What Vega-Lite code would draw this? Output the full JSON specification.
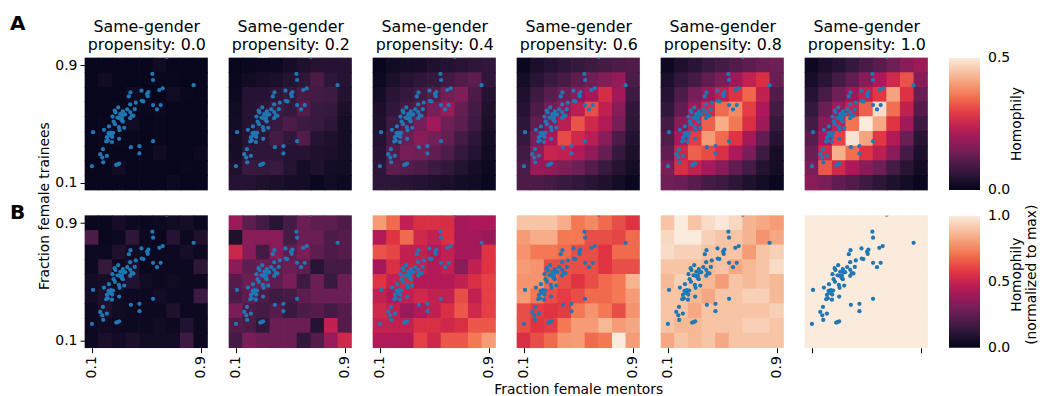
{
"$schema": "https://vega.github.io/schema/vega-lite/v6.json",
"padding": {"left": 10, "top": 13, "right": 0, "bottom": 0},
"config": {
 "font": "DejaVu Sans",
 "view": {"stroke": null},
 "axis": {"labelFontSize": 14, "titleFontSize": 13.8, "labelColor": "black", "titleColor": "black", "tickColor": "black", "domain": false, "grid": false, "tickSize": 5, "labelPadding": 3, "titleFontWeight": "normal", "labelFont": "DejaVu Sans", "titleFont": "DejaVu Sans"},
 "legend": {"labelFontSize": 14, "titleFontSize": 13.8, "labelColor": "black", "titleColor": "black", "titleFontWeight": "normal", "labelFont": "DejaVu Sans", "titleFont": "DejaVu Sans"}
},
"datasets": {
"pts": [
{"x":0.650,"y":0.957},{"x":0.545,"y":0.841},{"x":0.550,"y":0.800},{"x":0.848,"y":0.765},{"x":0.596,"y":0.731},{"x":0.621,"y":0.743},{"x":0.465,"y":0.727},{"x":0.516,"y":0.718},{"x":0.506,"y":0.705},{"x":0.511,"y":0.690},{"x":0.384,"y":0.715},{"x":0.372,"y":0.688},{"x":0.467,"y":0.658},{"x":0.479,"y":0.654},{"x":0.423,"y":0.645},{"x":0.382,"y":0.633},{"x":0.550,"y":0.629},{"x":0.606,"y":0.629},{"x":0.579,"y":0.599},{"x":0.294,"y":0.613},{"x":0.416,"y":0.601},{"x":0.274,"y":0.579},{"x":0.328,"y":0.586},{"x":0.309,"y":0.567},{"x":0.333,"y":0.563},{"x":0.382,"y":0.581},{"x":0.394,"y":0.558},{"x":0.406,"y":0.556},{"x":0.382,"y":0.540},{"x":0.252,"y":0.551},{"x":0.289,"y":0.544},{"x":0.304,"y":0.540},{"x":0.321,"y":0.540},{"x":0.328,"y":0.517},{"x":0.260,"y":0.517},{"x":0.270,"y":0.499},{"x":0.226,"y":0.483},{"x":0.299,"y":0.478},{"x":0.338,"y":0.474},{"x":0.304,"y":0.458},{"x":0.189,"y":0.460},{"x":0.109,"y":0.444},{"x":0.223,"y":0.437},{"x":0.240,"y":0.442},{"x":0.257,"y":0.440},{"x":0.231,"y":0.424},{"x":0.250,"y":0.412},{"x":0.211,"y":0.410},{"x":0.218,"y":0.387},{"x":0.206,"y":0.381},{"x":0.248,"y":0.377},{"x":0.301,"y":0.399},{"x":0.550,"y":0.383},{"x":0.387,"y":0.342},{"x":0.450,"y":0.349},{"x":0.450,"y":0.299},{"x":0.182,"y":0.328},{"x":0.162,"y":0.294},{"x":0.177,"y":0.271},{"x":0.211,"y":0.283},{"x":0.184,"y":0.239},{"x":0.101,"y":0.212},{"x":0.279,"y":0.221},{"x":0.301,"y":0.230},{"x":0.290,"y":0.225},{"x":0.320,"y":0.525},{"x":0.345,"y":0.565},{"x":0.268,"y":0.592},{"x":0.240,"y":0.430},{"x":0.360,"y":0.600}
],
"A00": [
{"x":0.1,"y":0.9,"v":0.005},{"x":0.2,"y":0.9,"v":0.005},{"x":0.3,"y":0.9,"v":0.005},{"x":0.4,"y":0.9,"v":0.005},{"x":0.5,"y":0.9,"v":0.005},{"x":0.6,"y":0.9,"v":0.02},{"x":0.7,"y":0.9,"v":0.005},{"x":0.8,"y":0.9,"v":0.005},{"x":0.9,"y":0.9,"v":0.005},
{"x":0.1,"y":0.8,"v":0.005},{"x":0.2,"y":0.8,"v":0.02},{"x":0.3,"y":0.8,"v":0.005},{"x":0.4,"y":0.8,"v":0.005},{"x":0.5,"y":0.8,"v":0.005},{"x":0.6,"y":0.8,"v":0.01},{"x":0.7,"y":0.8,"v":0.01},{"x":0.8,"y":0.8,"v":0.005},{"x":0.9,"y":0.8,"v":0.005},
{"x":0.1,"y":0.7,"v":0.005},{"x":0.2,"y":0.7,"v":0.005},{"x":0.3,"y":0.7,"v":0.005},{"x":0.4,"y":0.7,"v":0.02},{"x":0.5,"y":0.7,"v":0.01},{"x":0.6,"y":0.7,"v":0.005},{"x":0.7,"y":0.7,"v":0.02},{"x":0.8,"y":0.7,"v":0.01},{"x":0.9,"y":0.7,"v":0.005},
{"x":0.1,"y":0.6,"v":0.005},{"x":0.2,"y":0.6,"v":0.005},{"x":0.3,"y":0.6,"v":0.01},{"x":0.4,"y":0.6,"v":0.005},{"x":0.5,"y":0.6,"v":0.01},{"x":0.6,"y":0.6,"v":0.015},{"x":0.7,"y":0.6,"v":0.005},{"x":0.8,"y":0.6,"v":0.005},{"x":0.9,"y":0.6,"v":0.005},
{"x":0.1,"y":0.5,"v":0.005},{"x":0.2,"y":0.5,"v":0.01},{"x":0.3,"y":0.5,"v":0.01},{"x":0.4,"y":0.5,"v":0.02},{"x":0.5,"y":0.5,"v":0.005},{"x":0.6,"y":0.5,"v":0.01},{"x":0.7,"y":0.5,"v":0.005},{"x":0.8,"y":0.5,"v":0.005},{"x":0.9,"y":0.5,"v":0.005},
{"x":0.1,"y":0.4,"v":0.005},{"x":0.2,"y":0.4,"v":0.015},{"x":0.3,"y":0.4,"v":0.01},{"x":0.4,"y":0.4,"v":0.01},{"x":0.5,"y":0.4,"v":0.005},{"x":0.6,"y":0.4,"v":0.01},{"x":0.7,"y":0.4,"v":0.005},{"x":0.8,"y":0.4,"v":0.005},{"x":0.9,"y":0.4,"v":0.005},
{"x":0.1,"y":0.3,"v":0.005},{"x":0.2,"y":0.3,"v":0.01},{"x":0.3,"y":0.3,"v":0.005},{"x":0.4,"y":0.3,"v":0.005},{"x":0.5,"y":0.3,"v":0.005},{"x":0.6,"y":0.3,"v":0.02},{"x":0.7,"y":0.3,"v":0.005},{"x":0.8,"y":0.3,"v":0.005},{"x":0.9,"y":0.3,"v":0.015},
{"x":0.1,"y":0.2,"v":0.005},{"x":0.2,"y":0.2,"v":0.005},{"x":0.3,"y":0.2,"v":0.02},{"x":0.4,"y":0.2,"v":0.005},{"x":0.5,"y":0.2,"v":0.005},{"x":0.6,"y":0.2,"v":0.005},{"x":0.7,"y":0.2,"v":0.005},{"x":0.8,"y":0.2,"v":0.01},{"x":0.9,"y":0.2,"v":0.005},
{"x":0.1,"y":0.1,"v":0.005},{"x":0.2,"y":0.1,"v":0.005},{"x":0.3,"y":0.1,"v":0.005},{"x":0.4,"y":0.1,"v":0.005},{"x":0.5,"y":0.1,"v":0.005},{"x":0.6,"y":0.1,"v":0.005},{"x":0.7,"y":0.1,"v":0.015},{"x":0.8,"y":0.1,"v":0.005},{"x":0.9,"y":0.1,"v":0.005}
],
"A02": [
{"x":0.1,"y":0.9,"v":0.005},{"x":0.2,"y":0.9,"v":0.01},{"x":0.3,"y":0.9,"v":0.015},{"x":0.4,"y":0.9,"v":0.015},{"x":0.5,"y":0.9,"v":0.03},{"x":0.6,"y":0.9,"v":0.04},{"x":0.7,"y":0.9,"v":0.05},{"x":0.8,"y":0.9,"v":0.05},{"x":0.9,"y":0.9,"v":0.05},
{"x":0.1,"y":0.8,"v":0.01},{"x":0.2,"y":0.8,"v":0.02},{"x":0.3,"y":0.8,"v":0.03},{"x":0.4,"y":0.8,"v":0.035},{"x":0.5,"y":0.8,"v":0.045},{"x":0.6,"y":0.8,"v":0.06},{"x":0.7,"y":0.8,"v":0.1},{"x":0.8,"y":0.8,"v":0.06},{"x":0.9,"y":0.8,"v":0.05},
{"x":0.1,"y":0.7,"v":0.015},{"x":0.2,"y":0.7,"v":0.05},{"x":0.3,"y":0.7,"v":0.05},{"x":0.4,"y":0.7,"v":0.06},{"x":0.5,"y":0.7,"v":0.07},{"x":0.6,"y":0.7,"v":0.095},{"x":0.7,"y":0.7,"v":0.09},{"x":0.8,"y":0.7,"v":0.08},{"x":0.9,"y":0.7,"v":0.045},
{"x":0.1,"y":0.6,"v":0.02},{"x":0.2,"y":0.6,"v":0.05},{"x":0.3,"y":0.6,"v":0.06},{"x":0.4,"y":0.6,"v":0.08},{"x":0.5,"y":0.6,"v":0.07},{"x":0.6,"y":0.6,"v":0.11},{"x":0.7,"y":0.6,"v":0.075},{"x":0.8,"y":0.6,"v":0.07},{"x":0.9,"y":0.6,"v":0.035},
{"x":0.1,"y":0.5,"v":0.025},{"x":0.2,"y":0.5,"v":0.05},{"x":0.3,"y":0.5,"v":0.065},{"x":0.4,"y":0.5,"v":0.075},{"x":0.5,"y":0.5,"v":0.1},{"x":0.6,"y":0.5,"v":0.08},{"x":0.7,"y":0.5,"v":0.075},{"x":0.8,"y":0.5,"v":0.06},{"x":0.9,"y":0.5,"v":0.025},
{"x":0.1,"y":0.4,"v":0.03},{"x":0.2,"y":0.4,"v":0.05},{"x":0.3,"y":0.4,"v":0.06},{"x":0.4,"y":0.4,"v":0.09},{"x":0.5,"y":0.4,"v":0.065},{"x":0.6,"y":0.4,"v":0.105},{"x":0.7,"y":0.4,"v":0.05},{"x":0.8,"y":0.4,"v":0.04},{"x":0.9,"y":0.4,"v":0.025},
{"x":0.1,"y":0.3,"v":0.03},{"x":0.2,"y":0.3,"v":0.06},{"x":0.3,"y":0.3,"v":0.06},{"x":0.4,"y":0.3,"v":0.06},{"x":0.5,"y":0.3,"v":0.05},{"x":0.6,"y":0.3,"v":0.05},{"x":0.7,"y":0.3,"v":0.04},{"x":0.8,"y":0.3,"v":0.035},{"x":0.9,"y":0.3,"v":0.025},
{"x":0.1,"y":0.2,"v":0.04},{"x":0.2,"y":0.2,"v":0.075},{"x":0.3,"y":0.2,"v":0.07},{"x":0.4,"y":0.2,"v":0.075},{"x":0.5,"y":0.2,"v":0.05},{"x":0.6,"y":0.2,"v":0.025},{"x":0.7,"y":0.2,"v":0.04},{"x":0.8,"y":0.2,"v":0.025},{"x":0.9,"y":0.2,"v":0.02},
{"x":0.1,"y":0.1,"v":0.05},{"x":0.2,"y":0.1,"v":0.05},{"x":0.3,"y":0.1,"v":0.04},{"x":0.4,"y":0.1,"v":0.035},{"x":0.5,"y":0.1,"v":0.03},{"x":0.6,"y":0.1,"v":0.025},{"x":0.7,"y":0.1,"v":0.01},{"x":0.8,"y":0.1,"v":0.02},{"x":0.9,"y":0.1,"v":0.015}
],
"A04": [
{"x":0.1,"y":0.9,"v":0.005},{"x":0.2,"y":0.9,"v":0.02},{"x":0.3,"y":0.9,"v":0.025},{"x":0.4,"y":0.9,"v":0.03},{"x":0.5,"y":0.9,"v":0.04},{"x":0.6,"y":0.9,"v":0.045},{"x":0.7,"y":0.9,"v":0.055},{"x":0.8,"y":0.9,"v":0.06},{"x":0.9,"y":0.9,"v":0.065},
{"x":0.1,"y":0.8,"v":0.015},{"x":0.2,"y":0.8,"v":0.035},{"x":0.3,"y":0.8,"v":0.05},{"x":0.4,"y":0.8,"v":0.06},{"x":0.5,"y":0.8,"v":0.07},{"x":0.6,"y":0.8,"v":0.085},{"x":0.7,"y":0.8,"v":0.105},{"x":0.8,"y":0.8,"v":0.12},{"x":0.9,"y":0.8,"v":0.065},
{"x":0.1,"y":0.7,"v":0.025},{"x":0.2,"y":0.7,"v":0.055},{"x":0.3,"y":0.7,"v":0.07},{"x":0.4,"y":0.7,"v":0.09},{"x":0.5,"y":0.7,"v":0.11},{"x":0.6,"y":0.7,"v":0.14},{"x":0.7,"y":0.7,"v":0.16},{"x":0.8,"y":0.7,"v":0.1},{"x":0.9,"y":0.7,"v":0.05},
{"x":0.1,"y":0.6,"v":0.035},{"x":0.2,"y":0.6,"v":0.065},{"x":0.3,"y":0.6,"v":0.09},{"x":0.4,"y":0.6,"v":0.11},{"x":0.5,"y":0.6,"v":0.15},{"x":0.6,"y":0.6,"v":0.19},{"x":0.7,"y":0.6,"v":0.13},{"x":0.8,"y":0.6,"v":0.09},{"x":0.9,"y":0.6,"v":0.04},
{"x":0.1,"y":0.5,"v":0.04},{"x":0.2,"y":0.5,"v":0.08},{"x":0.3,"y":0.5,"v":0.11},{"x":0.4,"y":0.5,"v":0.15},{"x":0.5,"y":0.5,"v":0.2},{"x":0.6,"y":0.5,"v":0.14},{"x":0.7,"y":0.5,"v":0.12},{"x":0.8,"y":0.5,"v":0.08},{"x":0.9,"y":0.5,"v":0.035},
{"x":0.1,"y":0.4,"v":0.045},{"x":0.2,"y":0.4,"v":0.095},{"x":0.3,"y":0.4,"v":0.135},{"x":0.4,"y":0.4,"v":0.17},{"x":0.5,"y":0.4,"v":0.15},{"x":0.6,"y":0.4,"v":0.13},{"x":0.7,"y":0.4,"v":0.09},{"x":0.8,"y":0.4,"v":0.06},{"x":0.9,"y":0.4,"v":0.025},
{"x":0.1,"y":0.3,"v":0.055},{"x":0.2,"y":0.3,"v":0.11},{"x":0.3,"y":0.3,"v":0.15},{"x":0.4,"y":0.3,"v":0.14},{"x":0.5,"y":0.3,"v":0.125},{"x":0.6,"y":0.3,"v":0.1},{"x":0.7,"y":0.3,"v":0.07},{"x":0.8,"y":0.3,"v":0.045},{"x":0.9,"y":0.3,"v":0.02},
{"x":0.1,"y":0.2,"v":0.06},{"x":0.2,"y":0.2,"v":0.12},{"x":0.3,"y":0.2,"v":0.11},{"x":0.4,"y":0.2,"v":0.1},{"x":0.5,"y":0.2,"v":0.08},{"x":0.6,"y":0.2,"v":0.065},{"x":0.7,"y":0.2,"v":0.045},{"x":0.8,"y":0.2,"v":0.03},{"x":0.9,"y":0.2,"v":0.015},
{"x":0.1,"y":0.1,"v":0.06},{"x":0.2,"y":0.1,"v":0.06},{"x":0.3,"y":0.1,"v":0.055},{"x":0.4,"y":0.1,"v":0.045},{"x":0.5,"y":0.1,"v":0.04},{"x":0.6,"y":0.1,"v":0.035},{"x":0.7,"y":0.1,"v":0.025},{"x":0.8,"y":0.1,"v":0.02},{"x":0.9,"y":0.1,"v":0.01}
],
"A06": [
{"x":0.1,"y":0.9,"v":0.01},{"x":0.2,"y":0.9,"v":0.035},{"x":0.3,"y":0.9,"v":0.045},{"x":0.4,"y":0.9,"v":0.06},{"x":0.5,"y":0.9,"v":0.07},{"x":0.6,"y":0.9,"v":0.08},{"x":0.7,"y":0.9,"v":0.09},{"x":0.8,"y":0.9,"v":0.1},{"x":0.9,"y":0.9,"v":0.105},
{"x":0.1,"y":0.8,"v":0.025},{"x":0.2,"y":0.8,"v":0.055},{"x":0.3,"y":0.8,"v":0.075},{"x":0.4,"y":0.8,"v":0.095},{"x":0.5,"y":0.8,"v":0.12},{"x":0.6,"y":0.8,"v":0.14},{"x":0.7,"y":0.8,"v":0.165},{"x":0.8,"y":0.8,"v":0.185},{"x":0.9,"y":0.8,"v":0.1},
{"x":0.1,"y":0.7,"v":0.04},{"x":0.2,"y":0.7,"v":0.08},{"x":0.3,"y":0.7,"v":0.115},{"x":0.4,"y":0.7,"v":0.14},{"x":0.5,"y":0.7,"v":0.17},{"x":0.6,"y":0.7,"v":0.21},{"x":0.7,"y":0.7,"v":0.27},{"x":0.8,"y":0.7,"v":0.2},{"x":0.9,"y":0.7,"v":0.08},
{"x":0.1,"y":0.6,"v":0.05},{"x":0.2,"y":0.6,"v":0.1},{"x":0.3,"y":0.6,"v":0.14},{"x":0.4,"y":0.6,"v":0.18},{"x":0.5,"y":0.6,"v":0.23},{"x":0.6,"y":0.6,"v":0.315},{"x":0.7,"y":0.6,"v":0.24},{"x":0.8,"y":0.6,"v":0.17},{"x":0.9,"y":0.6,"v":0.065},
{"x":0.1,"y":0.5,"v":0.06},{"x":0.2,"y":0.5,"v":0.125},{"x":0.3,"y":0.5,"v":0.17},{"x":0.4,"y":0.5,"v":0.23},{"x":0.5,"y":0.5,"v":0.32},{"x":0.6,"y":0.5,"v":0.26},{"x":0.7,"y":0.5,"v":0.22},{"x":0.8,"y":0.5,"v":0.15},{"x":0.9,"y":0.5,"v":0.06},
{"x":0.1,"y":0.4,"v":0.07},{"x":0.2,"y":0.4,"v":0.15},{"x":0.3,"y":0.4,"v":0.21},{"x":0.4,"y":0.4,"v":0.31},{"x":0.5,"y":0.4,"v":0.26},{"x":0.6,"y":0.4,"v":0.23},{"x":0.7,"y":0.4,"v":0.17},{"x":0.8,"y":0.4,"v":0.1},{"x":0.9,"y":0.4,"v":0.045},
{"x":0.1,"y":0.3,"v":0.085},{"x":0.2,"y":0.3,"v":0.18},{"x":0.3,"y":0.3,"v":0.25},{"x":0.4,"y":0.3,"v":0.24},{"x":0.5,"y":0.3,"v":0.22},{"x":0.6,"y":0.3,"v":0.18},{"x":0.7,"y":0.3,"v":0.13},{"x":0.8,"y":0.3,"v":0.07},{"x":0.9,"y":0.3,"v":0.035},
{"x":0.1,"y":0.2,"v":0.1},{"x":0.2,"y":0.2,"v":0.19},{"x":0.3,"y":0.2,"v":0.18},{"x":0.4,"y":0.2,"v":0.16},{"x":0.5,"y":0.2,"v":0.14},{"x":0.6,"y":0.2,"v":0.11},{"x":0.7,"y":0.2,"v":0.075},{"x":0.8,"y":0.2,"v":0.05},{"x":0.9,"y":0.2,"v":0.025},
{"x":0.1,"y":0.1,"v":0.1},{"x":0.2,"y":0.1,"v":0.1},{"x":0.3,"y":0.1,"v":0.09},{"x":0.4,"y":0.1,"v":0.075},{"x":0.5,"y":0.1,"v":0.065},{"x":0.6,"y":0.1,"v":0.055},{"x":0.7,"y":0.1,"v":0.04},{"x":0.8,"y":0.1,"v":0.025},{"x":0.9,"y":0.1,"v":0.01}
],
"A08": [
{"x":0.1,"y":0.9,"v":0.015},{"x":0.2,"y":0.9,"v":0.04},{"x":0.3,"y":0.9,"v":0.055},{"x":0.4,"y":0.9,"v":0.075},{"x":0.5,"y":0.9,"v":0.09},{"x":0.6,"y":0.9,"v":0.105},{"x":0.7,"y":0.9,"v":0.12},{"x":0.8,"y":0.9,"v":0.135},{"x":0.9,"y":0.9,"v":0.14},
{"x":0.1,"y":0.8,"v":0.035},{"x":0.2,"y":0.8,"v":0.065},{"x":0.3,"y":0.8,"v":0.09},{"x":0.4,"y":0.8,"v":0.125},{"x":0.5,"y":0.8,"v":0.155},{"x":0.6,"y":0.8,"v":0.195},{"x":0.7,"y":0.8,"v":0.24},{"x":0.8,"y":0.8,"v":0.275},{"x":0.9,"y":0.8,"v":0.135},
{"x":0.1,"y":0.7,"v":0.05},{"x":0.2,"y":0.7,"v":0.1},{"x":0.3,"y":0.7,"v":0.15},{"x":0.4,"y":0.7,"v":0.19},{"x":0.5,"y":0.7,"v":0.235},{"x":0.6,"y":0.7,"v":0.28},{"x":0.7,"y":0.7,"v":0.34},{"x":0.8,"y":0.7,"v":0.24},{"x":0.9,"y":0.7,"v":0.105},
{"x":0.1,"y":0.6,"v":0.065},{"x":0.2,"y":0.6,"v":0.125},{"x":0.3,"y":0.6,"v":0.195},{"x":0.4,"y":0.6,"v":0.26},{"x":0.5,"y":0.6,"v":0.345},{"x":0.6,"y":0.6,"v":0.38},{"x":0.7,"y":0.6,"v":0.295},{"x":0.8,"y":0.6,"v":0.215},{"x":0.9,"y":0.6,"v":0.09},
{"x":0.1,"y":0.5,"v":0.09},{"x":0.2,"y":0.5,"v":0.17},{"x":0.3,"y":0.5,"v":0.24},{"x":0.4,"y":0.5,"v":0.335},{"x":0.5,"y":0.5,"v":0.42},{"x":0.6,"y":0.5,"v":0.36},{"x":0.7,"y":0.5,"v":0.275},{"x":0.8,"y":0.5,"v":0.195},{"x":0.9,"y":0.5,"v":0.07},
{"x":0.1,"y":0.4,"v":0.105},{"x":0.2,"y":0.4,"v":0.215},{"x":0.3,"y":0.4,"v":0.295},{"x":0.4,"y":0.4,"v":0.4},{"x":0.5,"y":0.4,"v":0.345},{"x":0.6,"y":0.4,"v":0.285},{"x":0.7,"y":0.4,"v":0.205},{"x":0.8,"y":0.4,"v":0.125},{"x":0.9,"y":0.4,"v":0.05},
{"x":0.1,"y":0.3,"v":0.125},{"x":0.2,"y":0.3,"v":0.255},{"x":0.3,"y":0.3,"v":0.335},{"x":0.4,"y":0.3,"v":0.31},{"x":0.5,"y":0.3,"v":0.275},{"x":0.6,"y":0.3,"v":0.215},{"x":0.7,"y":0.3,"v":0.155},{"x":0.8,"y":0.3,"v":0.08},{"x":0.9,"y":0.3,"v":0.03},
{"x":0.1,"y":0.2,"v":0.155},{"x":0.2,"y":0.2,"v":0.275},{"x":0.3,"y":0.2,"v":0.24},{"x":0.4,"y":0.2,"v":0.205},{"x":0.5,"y":0.2,"v":0.17},{"x":0.6,"y":0.2,"v":0.125},{"x":0.7,"y":0.2,"v":0.09},{"x":0.8,"y":0.2,"v":0.05},{"x":0.9,"y":0.2,"v":0.025},
{"x":0.1,"y":0.1,"v":0.14},{"x":0.2,"y":0.1,"v":0.135},{"x":0.3,"y":0.1,"v":0.115},{"x":0.4,"y":0.1,"v":0.09},{"x":0.5,"y":0.1,"v":0.08},{"x":0.6,"y":0.1,"v":0.06},{"x":0.7,"y":0.1,"v":0.04},{"x":0.8,"y":0.1,"v":0.025},{"x":0.9,"y":0.1,"v":0.01}
],
"A10": [
{"x":0.1,"y":0.9,"v":0.015},{"x":0.2,"y":0.9,"v":0.035},{"x":0.3,"y":0.9,"v":0.05},{"x":0.4,"y":0.9,"v":0.07},{"x":0.5,"y":0.9,"v":0.095},{"x":0.6,"y":0.9,"v":0.115},{"x":0.7,"y":0.9,"v":0.14},{"x":0.8,"y":0.9,"v":0.17},{"x":0.9,"y":0.9,"v":0.195},
{"x":0.1,"y":0.8,"v":0.03},{"x":0.2,"y":0.8,"v":0.055},{"x":0.3,"y":0.8,"v":0.09},{"x":0.4,"y":0.8,"v":0.125},{"x":0.5,"y":0.8,"v":0.17},{"x":0.6,"y":0.8,"v":0.215},{"x":0.7,"y":0.8,"v":0.26},{"x":0.8,"y":0.8,"v":0.32},{"x":0.9,"y":0.8,"v":0.17},
{"x":0.1,"y":0.7,"v":0.05},{"x":0.2,"y":0.7,"v":0.095},{"x":0.3,"y":0.7,"v":0.14},{"x":0.4,"y":0.7,"v":0.195},{"x":0.5,"y":0.7,"v":0.24},{"x":0.6,"y":0.7,"v":0.29},{"x":0.7,"y":0.7,"v":0.41},{"x":0.8,"y":0.7,"v":0.28},{"x":0.9,"y":0.7,"v":0.135},
{"x":0.1,"y":0.6,"v":0.07},{"x":0.2,"y":0.6,"v":0.135},{"x":0.3,"y":0.6,"v":0.195},{"x":0.4,"y":0.6,"v":0.25},{"x":0.5,"y":0.6,"v":0.335},{"x":0.6,"y":0.6,"v":0.48},{"x":0.7,"y":0.6,"v":0.35},{"x":0.8,"y":0.6,"v":0.24},{"x":0.9,"y":0.6,"v":0.11},
{"x":0.1,"y":0.5,"v":0.09},{"x":0.2,"y":0.5,"v":0.17},{"x":0.3,"y":0.5,"v":0.24},{"x":0.4,"y":0.5,"v":0.355},{"x":0.5,"y":0.5,"v":0.5},{"x":0.6,"y":0.5,"v":0.415},{"x":0.7,"y":0.5,"v":0.285},{"x":0.8,"y":0.5,"v":0.2},{"x":0.9,"y":0.5,"v":0.08},
{"x":0.1,"y":0.4,"v":0.115},{"x":0.2,"y":0.4,"v":0.215},{"x":0.3,"y":0.4,"v":0.3},{"x":0.4,"y":0.4,"v":0.49},{"x":0.5,"y":0.4,"v":0.41},{"x":0.6,"y":0.4,"v":0.29},{"x":0.7,"y":0.4,"v":0.22},{"x":0.8,"y":0.4,"v":0.135},{"x":0.9,"y":0.4,"v":0.055},
{"x":0.1,"y":0.3,"v":0.135},{"x":0.2,"y":0.3,"v":0.26},{"x":0.3,"y":0.3,"v":0.425},{"x":0.4,"y":0.3,"v":0.35},{"x":0.5,"y":0.3,"v":0.285},{"x":0.6,"y":0.3,"v":0.235},{"x":0.7,"y":0.3,"v":0.17},{"x":0.8,"y":0.3,"v":0.09},{"x":0.9,"y":0.3,"v":0.035},
{"x":0.1,"y":0.2,"v":0.155},{"x":0.2,"y":0.2,"v":0.325},{"x":0.3,"y":0.2,"v":0.26},{"x":0.4,"y":0.2,"v":0.215},{"x":0.5,"y":0.2,"v":0.17},{"x":0.6,"y":0.2,"v":0.14},{"x":0.7,"y":0.2,"v":0.09},{"x":0.8,"y":0.2,"v":0.055},{"x":0.9,"y":0.2,"v":0.025},
{"x":0.1,"y":0.1,"v":0.17},{"x":0.2,"y":0.1,"v":0.155},{"x":0.3,"y":0.1,"v":0.125},{"x":0.4,"y":0.1,"v":0.105},{"x":0.5,"y":0.1,"v":0.08},{"x":0.6,"y":0.1,"v":0.06},{"x":0.7,"y":0.1,"v":0.04},{"x":0.8,"y":0.1,"v":0.025},{"x":0.9,"y":0.1,"v":0.01}
],
"B00": [
{"x":0.1,"y":0.9,"v":0.02},{"x":0.2,"y":0.9,"v":0.02},{"x":0.3,"y":0.9,"v":0.06},{"x":0.4,"y":0.9,"v":0.03},{"x":0.5,"y":0.9,"v":0.02},{"x":0.6,"y":0.9,"v":0.03},{"x":0.7,"y":0.9,"v":0.04},{"x":0.8,"y":0.9,"v":0.06},{"x":0.9,"y":0.9,"v":0.02},
{"x":0.1,"y":0.8,"v":0.2},{"x":0.2,"y":0.8,"v":0.02},{"x":0.3,"y":0.8,"v":0.03},{"x":0.4,"y":0.8,"v":0.12},{"x":0.5,"y":0.8,"v":0.03},{"x":0.6,"y":0.8,"v":0.02},{"x":0.7,"y":0.8,"v":0.1},{"x":0.8,"y":0.8,"v":0.03},{"x":0.9,"y":0.8,"v":0.08},
{"x":0.1,"y":0.7,"v":0.03},{"x":0.2,"y":0.7,"v":0.03},{"x":0.3,"y":0.7,"v":0.08},{"x":0.4,"y":0.7,"v":0.04},{"x":0.5,"y":0.7,"v":0.03},{"x":0.6,"y":0.7,"v":0.03},{"x":0.7,"y":0.7,"v":0.03},{"x":0.8,"y":0.7,"v":0.06},{"x":0.9,"y":0.7,"v":0.03},
{"x":0.1,"y":0.6,"v":0.03},{"x":0.2,"y":0.6,"v":0.14},{"x":0.3,"y":0.6,"v":0.03},{"x":0.4,"y":0.6,"v":0.08},{"x":0.5,"y":0.6,"v":0.02},{"x":0.6,"y":0.6,"v":0.03},{"x":0.7,"y":0.6,"v":0.03},{"x":0.8,"y":0.6,"v":0.03},{"x":0.9,"y":0.6,"v":0.12},
{"x":0.1,"y":0.5,"v":0.05},{"x":0.2,"y":0.5,"v":0.06},{"x":0.3,"y":0.5,"v":0.04},{"x":0.4,"y":0.5,"v":0.09},{"x":0.5,"y":0.5,"v":0.04},{"x":0.6,"y":0.5,"v":0.03},{"x":0.7,"y":0.5,"v":0.04},{"x":0.8,"y":0.5,"v":0.03},{"x":0.9,"y":0.5,"v":0.03},
{"x":0.1,"y":0.4,"v":0.05},{"x":0.2,"y":0.4,"v":0.08},{"x":0.3,"y":0.4,"v":0.04},{"x":0.4,"y":0.4,"v":0.03},{"x":0.5,"y":0.4,"v":0.03},{"x":0.6,"y":0.4,"v":0.05},{"x":0.7,"y":0.4,"v":0.03},{"x":0.8,"y":0.4,"v":0.03},{"x":0.9,"y":0.4,"v":0.16},
{"x":0.1,"y":0.3,"v":0.03},{"x":0.2,"y":0.3,"v":0.08},{"x":0.3,"y":0.3,"v":0.04},{"x":0.4,"y":0.3,"v":0.03},{"x":0.5,"y":0.3,"v":0.03},{"x":0.6,"y":0.3,"v":0.03},{"x":0.7,"y":0.3,"v":0.08},{"x":0.8,"y":0.3,"v":0.03},{"x":0.9,"y":0.3,"v":0.03},
{"x":0.1,"y":0.2,"v":0.03},{"x":0.2,"y":0.2,"v":0.04},{"x":0.3,"y":0.2,"v":0.03},{"x":0.4,"y":0.2,"v":0.03},{"x":0.5,"y":0.2,"v":0.03},{"x":0.6,"y":0.2,"v":0.04},{"x":0.7,"y":0.2,"v":0.03},{"x":0.8,"y":0.2,"v":0.09},{"x":0.9,"y":0.2,"v":0.03},
{"x":0.1,"y":0.1,"v":0.03},{"x":0.2,"y":0.1,"v":0.07},{"x":0.3,"y":0.1,"v":0.05},{"x":0.4,"y":0.1,"v":0.07},{"x":0.5,"y":0.1,"v":0.04},{"x":0.6,"y":0.1,"v":0.04},{"x":0.7,"y":0.1,"v":0.05},{"x":0.8,"y":0.1,"v":0.16},{"x":0.9,"y":0.1,"v":0.03}
],
"B02": [
{"x":0.1,"y":0.9,"v":0.38},{"x":0.2,"y":0.9,"v":0.24},{"x":0.3,"y":0.9,"v":0.18},{"x":0.4,"y":0.9,"v":0.11},{"x":0.5,"y":0.9,"v":0.18},{"x":0.6,"y":0.9,"v":0.27},{"x":0.7,"y":0.9,"v":0.24},{"x":0.8,"y":0.9,"v":0.24},{"x":0.9,"y":0.9,"v":0.2},
{"x":0.1,"y":0.8,"v":0.08},{"x":0.2,"y":0.8,"v":0.34},{"x":0.3,"y":0.8,"v":0.34},{"x":0.4,"y":0.8,"v":0.34},{"x":0.5,"y":0.8,"v":0.18},{"x":0.6,"y":0.8,"v":0.27},{"x":0.7,"y":0.8,"v":0.27},{"x":0.8,"y":0.8,"v":0.2},{"x":0.9,"y":0.8,"v":0.22},
{"x":0.1,"y":0.7,"v":0.51},{"x":0.2,"y":0.7,"v":0.34},{"x":0.3,"y":0.7,"v":0.18},{"x":0.4,"y":0.7,"v":0.34},{"x":0.5,"y":0.7,"v":0.24},{"x":0.6,"y":0.7,"v":0.31},{"x":0.7,"y":0.7,"v":0.24},{"x":0.8,"y":0.7,"v":0.2},{"x":0.9,"y":0.7,"v":0.22},
{"x":0.1,"y":0.6,"v":0.34},{"x":0.2,"y":0.6,"v":0.24},{"x":0.3,"y":0.6,"v":0.27},{"x":0.4,"y":0.6,"v":0.24},{"x":0.5,"y":0.6,"v":0.27},{"x":0.6,"y":0.6,"v":0.24},{"x":0.7,"y":0.6,"v":0.11},{"x":0.8,"y":0.6,"v":0.18},{"x":0.9,"y":0.6,"v":0.18},
{"x":0.1,"y":0.5,"v":0.22},{"x":0.2,"y":0.5,"v":0.27},{"x":0.3,"y":0.5,"v":0.27},{"x":0.4,"y":0.5,"v":0.24},{"x":0.5,"y":0.5,"v":0.31},{"x":0.6,"y":0.5,"v":0.16},{"x":0.7,"y":0.5,"v":0.27},{"x":0.8,"y":0.5,"v":0.15},{"x":0.9,"y":0.5,"v":0.27},
{"x":0.1,"y":0.4,"v":0.2},{"x":0.2,"y":0.4,"v":0.24},{"x":0.3,"y":0.4,"v":0.2},{"x":0.4,"y":0.4,"v":0.16},{"x":0.5,"y":0.4,"v":0.18},{"x":0.6,"y":0.4,"v":0.24},{"x":0.7,"y":0.4,"v":0.27},{"x":0.8,"y":0.4,"v":0.27},{"x":0.9,"y":0.4,"v":0.27},
{"x":0.1,"y":0.3,"v":0.31},{"x":0.2,"y":0.3,"v":0.2},{"x":0.3,"y":0.3,"v":0.18},{"x":0.4,"y":0.3,"v":0.22},{"x":0.5,"y":0.3,"v":0.15},{"x":0.6,"y":0.3,"v":0.2},{"x":0.7,"y":0.3,"v":0.22},{"x":0.8,"y":0.3,"v":0.18},{"x":0.9,"y":0.3,"v":0.22},
{"x":0.1,"y":0.2,"v":0.22},{"x":0.2,"y":0.2,"v":0.2},{"x":0.3,"y":0.2,"v":0.13},{"x":0.4,"y":0.2,"v":0.27},{"x":0.5,"y":0.2,"v":0.27},{"x":0.6,"y":0.2,"v":0.27},{"x":0.7,"y":0.2,"v":0.1},{"x":0.8,"y":0.2,"v":0.48},{"x":0.9,"y":0.2,"v":0.22},
{"x":0.1,"y":0.1,"v":0.18},{"x":0.2,"y":0.1,"v":0.31},{"x":0.3,"y":0.1,"v":0.27},{"x":0.4,"y":0.1,"v":0.27},{"x":0.5,"y":0.1,"v":0.27},{"x":0.6,"y":0.1,"v":0.13},{"x":0.7,"y":0.1,"v":0.22},{"x":0.8,"y":0.1,"v":0.38},{"x":0.9,"y":0.1,"v":0.52}
],
"B04": [
{"x":0.1,"y":0.9,"v":0.8},{"x":0.2,"y":0.9,"v":0.69},{"x":0.3,"y":0.9,"v":0.48},{"x":0.4,"y":0.9,"v":0.55},{"x":0.5,"y":0.9,"v":0.55},{"x":0.6,"y":0.9,"v":0.54},{"x":0.7,"y":0.9,"v":0.41},{"x":0.8,"y":0.9,"v":0.43},{"x":0.9,"y":0.9,"v":0.43},
{"x":0.1,"y":0.8,"v":0.44},{"x":0.2,"y":0.8,"v":0.57},{"x":0.3,"y":0.8,"v":0.69},{"x":0.4,"y":0.8,"v":0.52},{"x":0.5,"y":0.8,"v":0.48},{"x":0.6,"y":0.8,"v":0.55},{"x":0.7,"y":0.8,"v":0.41},{"x":0.8,"y":0.8,"v":0.41},{"x":0.9,"y":0.8,"v":0.38},
{"x":0.1,"y":0.7,"v":0.64},{"x":0.2,"y":0.7,"v":0.61},{"x":0.3,"y":0.7,"v":0.48},{"x":0.4,"y":0.7,"v":0.48},{"x":0.5,"y":0.7,"v":0.44},{"x":0.6,"y":0.7,"v":0.48},{"x":0.7,"y":0.7,"v":0.41},{"x":0.8,"y":0.7,"v":0.41},{"x":0.9,"y":0.7,"v":0.57},
{"x":0.1,"y":0.6,"v":0.41},{"x":0.2,"y":0.6,"v":0.55},{"x":0.3,"y":0.6,"v":0.48},{"x":0.4,"y":0.6,"v":0.48},{"x":0.5,"y":0.6,"v":0.44},{"x":0.6,"y":0.6,"v":0.48},{"x":0.7,"y":0.6,"v":0.34},{"x":0.8,"y":0.6,"v":0.48},{"x":0.9,"y":0.6,"v":0.57},
{"x":0.1,"y":0.5,"v":0.57},{"x":0.2,"y":0.5,"v":0.48},{"x":0.3,"y":0.5,"v":0.52},{"x":0.4,"y":0.5,"v":0.44},{"x":0.5,"y":0.5,"v":0.44},{"x":0.6,"y":0.5,"v":0.44},{"x":0.7,"y":0.5,"v":0.48},{"x":0.8,"y":0.5,"v":0.55},{"x":0.9,"y":0.5,"v":0.6},
{"x":0.1,"y":0.4,"v":0.48},{"x":0.2,"y":0.4,"v":0.44},{"x":0.3,"y":0.4,"v":0.48},{"x":0.4,"y":0.4,"v":0.52},{"x":0.5,"y":0.4,"v":0.48},{"x":0.6,"y":0.4,"v":0.48},{"x":0.7,"y":0.4,"v":0.63},{"x":0.8,"y":0.4,"v":0.48},{"x":0.9,"y":0.4,"v":0.6},
{"x":0.1,"y":0.3,"v":0.52},{"x":0.2,"y":0.3,"v":0.48},{"x":0.3,"y":0.3,"v":0.38},{"x":0.4,"y":0.3,"v":0.44},{"x":0.5,"y":0.3,"v":0.48},{"x":0.6,"y":0.3,"v":0.55},{"x":0.7,"y":0.3,"v":0.65},{"x":0.8,"y":0.3,"v":0.52},{"x":0.9,"y":0.3,"v":0.6},
{"x":0.1,"y":0.2,"v":0.48},{"x":0.2,"y":0.2,"v":0.48},{"x":0.3,"y":0.2,"v":0.48},{"x":0.4,"y":0.2,"v":0.55},{"x":0.5,"y":0.2,"v":0.55},{"x":0.6,"y":0.2,"v":0.52},{"x":0.7,"y":0.2,"v":0.55},{"x":0.8,"y":0.2,"v":0.65},{"x":0.9,"y":0.2,"v":0.65},
{"x":0.1,"y":0.1,"v":0.44},{"x":0.2,"y":0.1,"v":0.44},{"x":0.3,"y":0.1,"v":0.44},{"x":0.4,"y":0.1,"v":0.6},{"x":0.5,"y":0.1,"v":0.52},{"x":0.6,"y":0.1,"v":0.65},{"x":0.7,"y":0.1,"v":0.65},{"x":0.8,"y":0.1,"v":0.72},{"x":0.9,"y":0.1,"v":0.8}
],
"B06": [
{"x":0.1,"y":0.9,"v":0.9},{"x":0.2,"y":0.9,"v":0.9},{"x":0.3,"y":0.9,"v":0.9},{"x":0.4,"y":0.9,"v":0.84},{"x":0.5,"y":0.9,"v":0.72},{"x":0.6,"y":0.9,"v":0.76},{"x":0.7,"y":0.9,"v":0.69},{"x":0.8,"y":0.9,"v":0.63},{"x":0.9,"y":0.9,"v":0.57},
{"x":0.1,"y":0.8,"v":0.8},{"x":0.2,"y":0.8,"v":0.84},{"x":0.3,"y":0.8,"v":0.84},{"x":0.4,"y":0.8,"v":0.72},{"x":0.5,"y":0.8,"v":0.72},{"x":0.6,"y":0.8,"v":0.63},{"x":0.7,"y":0.8,"v":0.63},{"x":0.8,"y":0.8,"v":0.61},{"x":0.9,"y":0.8,"v":0.69},
{"x":0.1,"y":0.7,"v":0.78},{"x":0.2,"y":0.7,"v":0.72},{"x":0.3,"y":0.7,"v":0.72},{"x":0.4,"y":0.7,"v":0.69},{"x":0.5,"y":0.7,"v":0.63},{"x":0.6,"y":0.7,"v":0.63},{"x":0.7,"y":0.7,"v":0.57},{"x":0.8,"y":0.7,"v":0.69},{"x":0.9,"y":0.7,"v":0.69},
{"x":0.1,"y":0.6,"v":0.8},{"x":0.2,"y":0.6,"v":0.78},{"x":0.3,"y":0.6,"v":0.63},{"x":0.4,"y":0.6,"v":0.63},{"x":0.5,"y":0.6,"v":0.63},{"x":0.6,"y":0.6,"v":0.63},{"x":0.7,"y":0.6,"v":0.57},{"x":0.8,"y":0.6,"v":0.63},{"x":0.9,"y":0.6,"v":0.63},
{"x":0.1,"y":0.5,"v":0.78},{"x":0.2,"y":0.5,"v":0.78},{"x":0.3,"y":0.5,"v":0.69},{"x":0.4,"y":0.5,"v":0.63},{"x":0.5,"y":0.5,"v":0.57},{"x":0.6,"y":0.5,"v":0.63},{"x":0.7,"y":0.5,"v":0.69},{"x":0.8,"y":0.5,"v":0.72},{"x":0.9,"y":0.5,"v":0.86},
{"x":0.1,"y":0.4,"v":0.8},{"x":0.2,"y":0.4,"v":0.72},{"x":0.3,"y":0.4,"v":0.63},{"x":0.4,"y":0.4,"v":0.59},{"x":0.5,"y":0.4,"v":0.63},{"x":0.6,"y":0.4,"v":0.69},{"x":0.7,"y":0.4,"v":0.69},{"x":0.8,"y":0.4,"v":0.72},{"x":0.9,"y":0.4,"v":0.8},
{"x":0.1,"y":0.3,"v":0.63},{"x":0.2,"y":0.3,"v":0.59},{"x":0.3,"y":0.3,"v":0.57},{"x":0.4,"y":0.3,"v":0.59},{"x":0.5,"y":0.3,"v":0.72},{"x":0.6,"y":0.3,"v":0.78},{"x":0.7,"y":0.3,"v":0.72},{"x":0.8,"y":0.3,"v":0.63},{"x":0.9,"y":0.3,"v":0.78},
{"x":0.1,"y":0.2,"v":0.63},{"x":0.2,"y":0.2,"v":0.57},{"x":0.3,"y":0.2,"v":0.59},{"x":0.4,"y":0.2,"v":0.72},{"x":0.5,"y":0.2,"v":0.8},{"x":0.6,"y":0.2,"v":0.8},{"x":0.7,"y":0.2,"v":0.87},{"x":0.8,"y":0.2,"v":0.8},{"x":0.9,"y":0.2,"v":0.83},
{"x":0.1,"y":0.1,"v":0.55},{"x":0.2,"y":0.1,"v":0.63},{"x":0.3,"y":0.1,"v":0.69},{"x":0.4,"y":0.1,"v":0.79},{"x":0.5,"y":0.1,"v":0.8},{"x":0.6,"y":0.1,"v":0.69},{"x":0.7,"y":0.1,"v":0.72},{"x":0.8,"y":0.1,"v":1.0},{"x":0.9,"y":0.1,"v":0.8}
],
"B08": [
{"x":0.1,"y":0.9,"v":0.9},{"x":0.2,"y":0.9,"v":1.0},{"x":0.3,"y":0.9,"v":0.9},{"x":0.4,"y":0.9,"v":0.96},{"x":0.5,"y":0.9,"v":0.99},{"x":0.6,"y":0.9,"v":0.95},{"x":0.7,"y":0.9,"v":0.86},{"x":0.8,"y":0.9,"v":0.83},{"x":0.9,"y":0.9,"v":0.8},
{"x":0.1,"y":0.8,"v":0.95},{"x":0.2,"y":0.8,"v":1.0},{"x":0.3,"y":0.8,"v":1.0},{"x":0.4,"y":0.8,"v":0.93},{"x":0.5,"y":0.8,"v":0.9},{"x":0.6,"y":0.8,"v":0.9},{"x":0.7,"y":0.8,"v":0.86},{"x":0.8,"y":0.8,"v":0.78},{"x":0.9,"y":0.8,"v":0.83},
{"x":0.1,"y":0.7,"v":0.96},{"x":0.2,"y":0.7,"v":0.93},{"x":0.3,"y":0.7,"v":0.93},{"x":0.4,"y":0.7,"v":0.9},{"x":0.5,"y":0.7,"v":0.9},{"x":0.6,"y":0.7,"v":0.9},{"x":0.7,"y":0.7,"v":0.8},{"x":0.8,"y":0.7,"v":0.9},{"x":0.9,"y":0.7,"v":0.93},
{"x":0.1,"y":0.6,"v":0.9},{"x":0.2,"y":0.6,"v":0.9},{"x":0.3,"y":0.6,"v":0.9},{"x":0.4,"y":0.6,"v":0.87},{"x":0.5,"y":0.6,"v":0.9},{"x":0.6,"y":0.6,"v":0.83},{"x":0.7,"y":0.6,"v":0.87},{"x":0.8,"y":0.6,"v":0.9},{"x":0.9,"y":0.6,"v":0.96},
{"x":0.1,"y":0.5,"v":0.87},{"x":0.2,"y":0.5,"v":0.93},{"x":0.3,"y":0.5,"v":0.9},{"x":0.4,"y":0.5,"v":0.87},{"x":0.5,"y":0.5,"v":0.8},{"x":0.6,"y":0.5,"v":0.9},{"x":0.7,"y":0.5,"v":0.87},{"x":0.8,"y":0.5,"v":0.9},{"x":0.9,"y":0.5,"v":0.87},
{"x":0.1,"y":0.4,"v":0.9},{"x":0.2,"y":0.4,"v":0.9},{"x":0.3,"y":0.4,"v":0.87},{"x":0.4,"y":0.4,"v":0.83},{"x":0.5,"y":0.4,"v":0.9},{"x":0.6,"y":0.4,"v":0.9},{"x":0.7,"y":0.4,"v":0.93},{"x":0.8,"y":0.4,"v":0.93},{"x":0.9,"y":0.4,"v":0.87},
{"x":0.1,"y":0.3,"v":0.9},{"x":0.2,"y":0.3,"v":0.9},{"x":0.3,"y":0.3,"v":0.83},{"x":0.4,"y":0.3,"v":0.9},{"x":0.5,"y":0.3,"v":0.9},{"x":0.6,"y":0.3,"v":0.9},{"x":0.7,"y":0.3,"v":0.9},{"x":0.8,"y":0.3,"v":0.9},{"x":0.9,"y":0.3,"v":0.93},
{"x":0.1,"y":0.2,"v":0.9},{"x":0.2,"y":0.2,"v":0.87},{"x":0.3,"y":0.2,"v":0.87},{"x":0.4,"y":0.2,"v":0.9},{"x":0.5,"y":0.2,"v":0.9},{"x":0.6,"y":0.2,"v":0.9},{"x":0.7,"y":0.2,"v":0.93},{"x":0.8,"y":0.2,"v":0.93},{"x":0.9,"y":0.2,"v":0.9},
{"x":0.1,"y":0.1,"v":0.83},{"x":0.2,"y":0.1,"v":0.9},{"x":0.3,"y":0.1,"v":0.87},{"x":0.4,"y":0.1,"v":0.9},{"x":0.5,"y":0.1,"v":0.83},{"x":0.6,"y":0.1,"v":0.9},{"x":0.7,"y":0.1,"v":0.9},{"x":0.8,"y":0.1,"v":0.9},{"x":0.9,"y":0.1,"v":0.9}
],
"B10": [
{"x":0.1,"y":0.9,"v":1},{"x":0.2,"y":0.9,"v":1},{"x":0.3,"y":0.9,"v":1},{"x":0.4,"y":0.9,"v":1},{"x":0.5,"y":0.9,"v":1},{"x":0.6,"y":0.9,"v":1},{"x":0.7,"y":0.9,"v":1},{"x":0.8,"y":0.9,"v":1},{"x":0.9,"y":0.9,"v":1},
{"x":0.1,"y":0.8,"v":1},{"x":0.2,"y":0.8,"v":1},{"x":0.3,"y":0.8,"v":1},{"x":0.4,"y":0.8,"v":1},{"x":0.5,"y":0.8,"v":1},{"x":0.6,"y":0.8,"v":1},{"x":0.7,"y":0.8,"v":1},{"x":0.8,"y":0.8,"v":1},{"x":0.9,"y":0.8,"v":1},
{"x":0.1,"y":0.7,"v":1},{"x":0.2,"y":0.7,"v":1},{"x":0.3,"y":0.7,"v":1},{"x":0.4,"y":0.7,"v":1},{"x":0.5,"y":0.7,"v":1},{"x":0.6,"y":0.7,"v":1},{"x":0.7,"y":0.7,"v":1},{"x":0.8,"y":0.7,"v":1},{"x":0.9,"y":0.7,"v":1},
{"x":0.1,"y":0.6,"v":1},{"x":0.2,"y":0.6,"v":1},{"x":0.3,"y":0.6,"v":1},{"x":0.4,"y":0.6,"v":1},{"x":0.5,"y":0.6,"v":1},{"x":0.6,"y":0.6,"v":1},{"x":0.7,"y":0.6,"v":1},{"x":0.8,"y":0.6,"v":1},{"x":0.9,"y":0.6,"v":1},
{"x":0.1,"y":0.5,"v":1},{"x":0.2,"y":0.5,"v":1},{"x":0.3,"y":0.5,"v":1},{"x":0.4,"y":0.5,"v":1},{"x":0.5,"y":0.5,"v":1},{"x":0.6,"y":0.5,"v":1},{"x":0.7,"y":0.5,"v":1},{"x":0.8,"y":0.5,"v":1},{"x":0.9,"y":0.5,"v":1},
{"x":0.1,"y":0.4,"v":1},{"x":0.2,"y":0.4,"v":1},{"x":0.3,"y":0.4,"v":1},{"x":0.4,"y":0.4,"v":1},{"x":0.5,"y":0.4,"v":1},{"x":0.6,"y":0.4,"v":1},{"x":0.7,"y":0.4,"v":1},{"x":0.8,"y":0.4,"v":1},{"x":0.9,"y":0.4,"v":1},
{"x":0.1,"y":0.3,"v":1},{"x":0.2,"y":0.3,"v":1},{"x":0.3,"y":0.3,"v":1},{"x":0.4,"y":0.3,"v":1},{"x":0.5,"y":0.3,"v":1},{"x":0.6,"y":0.3,"v":1},{"x":0.7,"y":0.3,"v":1},{"x":0.8,"y":0.3,"v":1},{"x":0.9,"y":0.3,"v":1},
{"x":0.1,"y":0.2,"v":1},{"x":0.2,"y":0.2,"v":1},{"x":0.3,"y":0.2,"v":1},{"x":0.4,"y":0.2,"v":1},{"x":0.5,"y":0.2,"v":1},{"x":0.6,"y":0.2,"v":1},{"x":0.7,"y":0.2,"v":1},{"x":0.8,"y":0.2,"v":1},{"x":0.9,"y":0.2,"v":1},
{"x":0.1,"y":0.1,"v":1},{"x":0.2,"y":0.1,"v":1},{"x":0.3,"y":0.1,"v":1},{"x":0.4,"y":0.1,"v":1},{"x":0.5,"y":0.1,"v":1},{"x":0.6,"y":0.1,"v":1},{"x":0.7,"y":0.1,"v":1},{"x":0.8,"y":0.1,"v":1},{"x":0.9,"y":0.1,"v":1}
]
},
"concat": [
  {"width": 122.5, "height": 132,
   "title": {"text": "A", "anchor": "start", "frame": "group", "fontSize": 20, "fontWeight": "bold", "color": "black", "baseline": "alphabetic", "offset": 0, "dx": -75, "dy": 31},
   "layer": [
    {"data": {"name": "A00"}, "mark": {"type": "rect", "width": {"band": 1.05}, "height": {"band": 1.05}}, "encoding": {"x": {"field": "x", "type": "ordinal", "scale": {"domain": [0.1,0.2,0.3,0.4,0.5,0.6,0.7,0.8,0.9], "paddingInner": 0, "paddingOuter": 0}, "axis": {"orient": "top", "labels": false, "ticks": false, "domain": false, "title": ["Same-gender", "propensity: 0.0"], "titleFontSize": 15.8, "titlePadding": 6, "titleBaseline": "bottom", "titleLineHeight": 17.5}}, "y": {"field": "y", "type": "ordinal", "scale": {"domain": [0.9,0.8,0.7,0.6,0.5,0.4,0.3,0.2,0.1], "paddingInner": 0, "paddingOuter": 0}, "axis": null}, "color": {"field": "v", "type": "quantitative", "scale": {"domain": [0,0.0714,0.1429,0.2143,0.2857,0.3571,0.4286,0.5], "range": ["#03051a","#35193e","#701f57","#ad1759","#e13342","#f37651","#f6b48f","#faebdd"], "interpolate": "rgb"}, "legend": null}}},
    {"data": {"name": "pts"}, "mark": {"type": "circle", "size": 18, "color": "#1f77b4", "opacity": 1, "clip": true}, "encoding": {"x": {"field": "x", "type": "quantitative", "scale": {"domain": [0.05, 0.95], "nice": false, "zero": false}, "axis": null}, "y": {"field": "y", "type": "quantitative", "scale": {"domain": [0.05, 0.95], "nice": false, "zero": false}, "axis": {"orient": "left", "values": [0.1, 0.9], "format": ".1f", "title": null, "labelFlush": false}}}}
   ],
   "resolve": {"scale": {"x": "independent", "y": "independent"}}},
  {"width": 122.5, "height": 132,
   "layer": [
    {"data": {"name": "A02"}, "mark": {"type": "rect", "width": {"band": 1.05}, "height": {"band": 1.05}}, "encoding": {"x": {"field": "x", "type": "ordinal", "scale": {"domain": [0.1,0.2,0.3,0.4,0.5,0.6,0.7,0.8,0.9], "paddingInner": 0, "paddingOuter": 0}, "axis": {"orient": "top", "labels": false, "ticks": false, "domain": false, "title": ["Same-gender", "propensity: 0.2"], "titleFontSize": 15.8, "titlePadding": 6, "titleBaseline": "bottom", "titleLineHeight": 17.5}}, "y": {"field": "y", "type": "ordinal", "scale": {"domain": [0.9,0.8,0.7,0.6,0.5,0.4,0.3,0.2,0.1], "paddingInner": 0, "paddingOuter": 0}, "axis": null}, "color": {"field": "v", "type": "quantitative", "scale": {"domain": [0,0.0714,0.1429,0.2143,0.2857,0.3571,0.4286,0.5], "range": ["#03051a","#35193e","#701f57","#ad1759","#e13342","#f37651","#f6b48f","#faebdd"], "interpolate": "rgb"}, "legend": null}}},
    {"data": {"name": "pts"}, "mark": {"type": "circle", "size": 18, "color": "#1f77b4", "opacity": 1, "clip": true}, "encoding": {"x": {"field": "x", "type": "quantitative", "scale": {"domain": [0.05, 0.95], "nice": false, "zero": false}, "axis": null}, "y": {"field": "y", "type": "quantitative", "scale": {"domain": [0.05, 0.95], "nice": false, "zero": false}, "axis": null}}}
   ],
   "resolve": {"scale": {"x": "independent", "y": "independent"}}},
  {"width": 122.5, "height": 132,
   "layer": [
    {"data": {"name": "A04"}, "mark": {"type": "rect", "width": {"band": 1.05}, "height": {"band": 1.05}}, "encoding": {"x": {"field": "x", "type": "ordinal", "scale": {"domain": [0.1,0.2,0.3,0.4,0.5,0.6,0.7,0.8,0.9], "paddingInner": 0, "paddingOuter": 0}, "axis": {"orient": "top", "labels": false, "ticks": false, "domain": false, "title": ["Same-gender", "propensity: 0.4"], "titleFontSize": 15.8, "titlePadding": 6, "titleBaseline": "bottom", "titleLineHeight": 17.5}}, "y": {"field": "y", "type": "ordinal", "scale": {"domain": [0.9,0.8,0.7,0.6,0.5,0.4,0.3,0.2,0.1], "paddingInner": 0, "paddingOuter": 0}, "axis": null}, "color": {"field": "v", "type": "quantitative", "scale": {"domain": [0,0.0714,0.1429,0.2143,0.2857,0.3571,0.4286,0.5], "range": ["#03051a","#35193e","#701f57","#ad1759","#e13342","#f37651","#f6b48f","#faebdd"], "interpolate": "rgb"}, "legend": null}}},
    {"data": {"name": "pts"}, "mark": {"type": "circle", "size": 18, "color": "#1f77b4", "opacity": 1, "clip": true}, "encoding": {"x": {"field": "x", "type": "quantitative", "scale": {"domain": [0.05, 0.95], "nice": false, "zero": false}, "axis": null}, "y": {"field": "y", "type": "quantitative", "scale": {"domain": [0.05, 0.95], "nice": false, "zero": false}, "axis": null}}}
   ],
   "resolve": {"scale": {"x": "independent", "y": "independent"}}},
  {"width": 122.5, "height": 132,
   "layer": [
    {"data": {"name": "A06"}, "mark": {"type": "rect", "width": {"band": 1.05}, "height": {"band": 1.05}}, "encoding": {"x": {"field": "x", "type": "ordinal", "scale": {"domain": [0.1,0.2,0.3,0.4,0.5,0.6,0.7,0.8,0.9], "paddingInner": 0, "paddingOuter": 0}, "axis": {"orient": "top", "labels": false, "ticks": false, "domain": false, "title": ["Same-gender", "propensity: 0.6"], "titleFontSize": 15.8, "titlePadding": 6, "titleBaseline": "bottom", "titleLineHeight": 17.5}}, "y": {"field": "y", "type": "ordinal", "scale": {"domain": [0.9,0.8,0.7,0.6,0.5,0.4,0.3,0.2,0.1], "paddingInner": 0, "paddingOuter": 0}, "axis": null}, "color": {"field": "v", "type": "quantitative", "scale": {"domain": [0,0.0714,0.1429,0.2143,0.2857,0.3571,0.4286,0.5], "range": ["#03051a","#35193e","#701f57","#ad1759","#e13342","#f37651","#f6b48f","#faebdd"], "interpolate": "rgb"}, "legend": null}}},
    {"data": {"name": "pts"}, "mark": {"type": "circle", "size": 18, "color": "#1f77b4", "opacity": 1, "clip": true}, "encoding": {"x": {"field": "x", "type": "quantitative", "scale": {"domain": [0.05, 0.95], "nice": false, "zero": false}, "axis": null}, "y": {"field": "y", "type": "quantitative", "scale": {"domain": [0.05, 0.95], "nice": false, "zero": false}, "axis": null}}}
   ],
   "resolve": {"scale": {"x": "independent", "y": "independent"}}},
  {"width": 122.5, "height": 132,
   "layer": [
    {"data": {"name": "A08"}, "mark": {"type": "rect", "width": {"band": 1.05}, "height": {"band": 1.05}}, "encoding": {"x": {"field": "x", "type": "ordinal", "scale": {"domain": [0.1,0.2,0.3,0.4,0.5,0.6,0.7,0.8,0.9], "paddingInner": 0, "paddingOuter": 0}, "axis": {"orient": "top", "labels": false, "ticks": false, "domain": false, "title": ["Same-gender", "propensity: 0.8"], "titleFontSize": 15.8, "titlePadding": 6, "titleBaseline": "bottom", "titleLineHeight": 17.5}}, "y": {"field": "y", "type": "ordinal", "scale": {"domain": [0.9,0.8,0.7,0.6,0.5,0.4,0.3,0.2,0.1], "paddingInner": 0, "paddingOuter": 0}, "axis": null}, "color": {"field": "v", "type": "quantitative", "scale": {"domain": [0,0.0714,0.1429,0.2143,0.2857,0.3571,0.4286,0.5], "range": ["#03051a","#35193e","#701f57","#ad1759","#e13342","#f37651","#f6b48f","#faebdd"], "interpolate": "rgb"}, "legend": null}}},
    {"data": {"name": "pts"}, "mark": {"type": "circle", "size": 18, "color": "#1f77b4", "opacity": 1, "clip": true}, "encoding": {"x": {"field": "x", "type": "quantitative", "scale": {"domain": [0.05, 0.95], "nice": false, "zero": false}, "axis": null}, "y": {"field": "y", "type": "quantitative", "scale": {"domain": [0.05, 0.95], "nice": false, "zero": false}, "axis": null}}}
   ],
   "resolve": {"scale": {"x": "independent", "y": "independent"}}},
  {"width": 122.5, "height": 132,
   "layer": [
    {"data": {"name": "A10"}, "mark": {"type": "rect", "width": {"band": 1.05}, "height": {"band": 1.05}}, "encoding": {"x": {"field": "x", "type": "ordinal", "scale": {"domain": [0.1,0.2,0.3,0.4,0.5,0.6,0.7,0.8,0.9], "paddingInner": 0, "paddingOuter": 0}, "axis": {"orient": "top", "labels": false, "ticks": false, "domain": false, "title": ["Same-gender", "propensity: 1.0"], "titleFontSize": 15.8, "titlePadding": 6, "titleBaseline": "bottom", "titleLineHeight": 17.5}}, "y": {"field": "y", "type": "ordinal", "scale": {"domain": [0.9,0.8,0.7,0.6,0.5,0.4,0.3,0.2,0.1], "paddingInner": 0, "paddingOuter": 0}, "axis": null}, "color": {"field": "v", "type": "quantitative", "title": "Homophily", "scale": {"domain": [0,0.0714,0.1429,0.2143,0.2857,0.3571,0.4286,0.5], "range": ["#03051a","#35193e","#701f57","#ad1759","#e13342","#f37651","#f6b48f","#faebdd"], "interpolate": "rgb"}, "legend": {"type": "gradient", "values": [0, 0.5], "format": ".1f", "orient": "right", "offset": 21, "gradientLength": 132, "gradientThickness": 31, "gradientStrokeWidth": 0, "titleOrient": "right", "titleAnchor": "middle", "titlePadding": 5, "titleLineHeight": 15, "labelOffset": 8, "labelOverlap": false, "encode": {"labels": {"update": {"baseline": {"value": "middle"}}}, "title": {"update": {"angle": {"value": 270}, "baseline": {"value": "top"}, "dy": {"value": -5}}}}}}}},
    {"data": {"name": "pts"}, "mark": {"type": "circle", "size": 18, "color": "#1f77b4", "opacity": 1, "clip": true}, "encoding": {"x": {"field": "x", "type": "quantitative", "scale": {"domain": [0.05, 0.95], "nice": false, "zero": false}, "axis": null}, "y": {"field": "y", "type": "quantitative", "scale": {"domain": [0.05, 0.95], "nice": false, "zero": false}, "axis": null}}}
   ],
   "resolve": {"scale": {"x": "independent", "y": "independent"}}},
  {"width": 122.5, "height": 132,
   "title": {"text": "B", "anchor": "start", "frame": "group", "fontSize": 20, "fontWeight": "bold", "color": "black", "baseline": "alphabetic", "offset": 0, "dx": -75, "dy": 117},
   "layer": [
    {"data": {"name": "B00"}, "mark": {"type": "rect", "width": {"band": 1.05}, "height": {"band": 1.05}}, "encoding": {"x": {"field": "x", "type": "ordinal", "scale": {"domain": [0.1,0.2,0.3,0.4,0.5,0.6,0.7,0.8,0.9], "paddingInner": 0, "paddingOuter": 0}, "axis": null}, "y": {"field": "y", "type": "ordinal", "scale": {"domain": [0.9,0.8,0.7,0.6,0.5,0.4,0.3,0.2,0.1], "paddingInner": 0, "paddingOuter": 0}, "axis": null}, "color": {"field": "v", "type": "quantitative", "scale": {"domain": [0,0.1429,0.2857,0.4286,0.5714,0.7143,0.8571,1], "range": ["#03051a","#35193e","#701f57","#ad1759","#e13342","#f37651","#f6b48f","#faebdd"], "interpolate": "rgb"}, "legend": null}}},
    {"data": {"name": "pts"}, "mark": {"type": "circle", "size": 18, "color": "#1f77b4", "opacity": 1, "clip": true}, "encoding": {"x": {"field": "x", "type": "quantitative", "scale": {"domain": [0.05, 0.95], "nice": false, "zero": false}, "axis": {"orient": "bottom", "values": [0.1, 0.9], "format": ".1f", "title": null, "labelAngle": 270, "labelFlush": false}}, "y": {"field": "y", "type": "quantitative", "scale": {"domain": [0.05, 0.95], "nice": false, "zero": false}, "axis": {"orient": "left", "values": [0.1, 0.9], "format": ".1f", "title": "Fraction female trainees", "titleX": -37, "titleY": -10, "titleAngle": 270, "titleBaseline": "alphabetic", "titleAlign": "center", "labelFlush": false}}}}
   ],
   "resolve": {"scale": {"x": "independent", "y": "independent"}}},
  {"width": 122.5, "height": 132,
   "layer": [
    {"data": {"name": "B02"}, "mark": {"type": "rect", "width": {"band": 1.05}, "height": {"band": 1.05}}, "encoding": {"x": {"field": "x", "type": "ordinal", "scale": {"domain": [0.1,0.2,0.3,0.4,0.5,0.6,0.7,0.8,0.9], "paddingInner": 0, "paddingOuter": 0}, "axis": null}, "y": {"field": "y", "type": "ordinal", "scale": {"domain": [0.9,0.8,0.7,0.6,0.5,0.4,0.3,0.2,0.1], "paddingInner": 0, "paddingOuter": 0}, "axis": null}, "color": {"field": "v", "type": "quantitative", "scale": {"domain": [0,0.1429,0.2857,0.4286,0.5714,0.7143,0.8571,1], "range": ["#03051a","#35193e","#701f57","#ad1759","#e13342","#f37651","#f6b48f","#faebdd"], "interpolate": "rgb"}, "legend": null}}},
    {"data": {"name": "pts"}, "mark": {"type": "circle", "size": 18, "color": "#1f77b4", "opacity": 1, "clip": true}, "encoding": {"x": {"field": "x", "type": "quantitative", "scale": {"domain": [0.05, 0.95], "nice": false, "zero": false}, "axis": {"orient": "bottom", "values": [0.1, 0.9], "format": ".1f", "title": null, "labelAngle": 270, "labelFlush": false}}, "y": {"field": "y", "type": "quantitative", "scale": {"domain": [0.05, 0.95], "nice": false, "zero": false}, "axis": null}}}
   ],
   "resolve": {"scale": {"x": "independent", "y": "independent"}}},
  {"width": 122.5, "height": 132,
   "layer": [
    {"data": {"name": "B04"}, "mark": {"type": "rect", "width": {"band": 1.05}, "height": {"band": 1.05}}, "encoding": {"x": {"field": "x", "type": "ordinal", "scale": {"domain": [0.1,0.2,0.3,0.4,0.5,0.6,0.7,0.8,0.9], "paddingInner": 0, "paddingOuter": 0}, "axis": null}, "y": {"field": "y", "type": "ordinal", "scale": {"domain": [0.9,0.8,0.7,0.6,0.5,0.4,0.3,0.2,0.1], "paddingInner": 0, "paddingOuter": 0}, "axis": null}, "color": {"field": "v", "type": "quantitative", "scale": {"domain": [0,0.1429,0.2857,0.4286,0.5714,0.7143,0.8571,1], "range": ["#03051a","#35193e","#701f57","#ad1759","#e13342","#f37651","#f6b48f","#faebdd"], "interpolate": "rgb"}, "legend": null}}},
    {"data": {"name": "pts"}, "mark": {"type": "circle", "size": 18, "color": "#1f77b4", "opacity": 1, "clip": true}, "encoding": {"x": {"field": "x", "type": "quantitative", "scale": {"domain": [0.05, 0.95], "nice": false, "zero": false}, "axis": {"orient": "bottom", "values": [0.1, 0.9], "format": ".1f", "title": null, "labelAngle": 270, "labelFlush": false}}, "y": {"field": "y", "type": "quantitative", "scale": {"domain": [0.05, 0.95], "nice": false, "zero": false}, "axis": null}}}
   ],
   "resolve": {"scale": {"x": "independent", "y": "independent"}}},
  {"width": 122.5, "height": 132,
   "layer": [
    {"data": {"name": "B06"}, "mark": {"type": "rect", "width": {"band": 1.05}, "height": {"band": 1.05}}, "encoding": {"x": {"field": "x", "type": "ordinal", "scale": {"domain": [0.1,0.2,0.3,0.4,0.5,0.6,0.7,0.8,0.9], "paddingInner": 0, "paddingOuter": 0}, "axis": null}, "y": {"field": "y", "type": "ordinal", "scale": {"domain": [0.9,0.8,0.7,0.6,0.5,0.4,0.3,0.2,0.1], "paddingInner": 0, "paddingOuter": 0}, "axis": null}, "color": {"field": "v", "type": "quantitative", "scale": {"domain": [0,0.1429,0.2857,0.4286,0.5714,0.7143,0.8571,1], "range": ["#03051a","#35193e","#701f57","#ad1759","#e13342","#f37651","#f6b48f","#faebdd"], "interpolate": "rgb"}, "legend": null}}},
    {"data": {"name": "pts"}, "mark": {"type": "circle", "size": 18, "color": "#1f77b4", "opacity": 1, "clip": true}, "encoding": {"x": {"field": "x", "type": "quantitative", "scale": {"domain": [0.05, 0.95], "nice": false, "zero": false}, "axis": {"orient": "bottom", "values": [0.1, 0.9], "format": ".1f", "title": "Fraction female mentors", "titleY": 46, "titleBaseline": "alphabetic", "labelAngle": 270, "labelFlush": false}}, "y": {"field": "y", "type": "quantitative", "scale": {"domain": [0.05, 0.95], "nice": false, "zero": false}, "axis": null}}}
   ],
   "resolve": {"scale": {"x": "independent", "y": "independent"}}},
  {"width": 122.5, "height": 132,
   "layer": [
    {"data": {"name": "B08"}, "mark": {"type": "rect", "width": {"band": 1.05}, "height": {"band": 1.05}}, "encoding": {"x": {"field": "x", "type": "ordinal", "scale": {"domain": [0.1,0.2,0.3,0.4,0.5,0.6,0.7,0.8,0.9], "paddingInner": 0, "paddingOuter": 0}, "axis": null}, "y": {"field": "y", "type": "ordinal", "scale": {"domain": [0.9,0.8,0.7,0.6,0.5,0.4,0.3,0.2,0.1], "paddingInner": 0, "paddingOuter": 0}, "axis": null}, "color": {"field": "v", "type": "quantitative", "scale": {"domain": [0,0.1429,0.2857,0.4286,0.5714,0.7143,0.8571,1], "range": ["#03051a","#35193e","#701f57","#ad1759","#e13342","#f37651","#f6b48f","#faebdd"], "interpolate": "rgb"}, "legend": null}}},
    {"data": {"name": "pts"}, "mark": {"type": "circle", "size": 18, "color": "#1f77b4", "opacity": 1, "clip": true}, "encoding": {"x": {"field": "x", "type": "quantitative", "scale": {"domain": [0.05, 0.95], "nice": false, "zero": false}, "axis": {"orient": "bottom", "values": [0.1, 0.9], "format": ".1f", "title": null, "labelAngle": 270, "labelFlush": false}}, "y": {"field": "y", "type": "quantitative", "scale": {"domain": [0.05, 0.95], "nice": false, "zero": false}, "axis": null}}}
   ],
   "resolve": {"scale": {"x": "independent", "y": "independent"}}},
  {"width": 122.5, "height": 132,
   "layer": [
    {"data": {"name": "B10"}, "mark": {"type": "rect", "width": {"band": 1.05}, "height": {"band": 1.05}}, "encoding": {"x": {"field": "x", "type": "ordinal", "scale": {"domain": [0.1,0.2,0.3,0.4,0.5,0.6,0.7,0.8,0.9], "paddingInner": 0, "paddingOuter": 0}, "axis": null}, "y": {"field": "y", "type": "ordinal", "scale": {"domain": [0.9,0.8,0.7,0.6,0.5,0.4,0.3,0.2,0.1], "paddingInner": 0, "paddingOuter": 0}, "axis": null}, "color": {"field": "v", "type": "quantitative", "title": ["Homophily", "(normalized to max)"], "scale": {"domain": [0,0.1429,0.2857,0.4286,0.5714,0.7143,0.8571,1], "range": ["#03051a","#35193e","#701f57","#ad1759","#e13342","#f37651","#f6b48f","#faebdd"], "interpolate": "rgb"}, "legend": {"type": "gradient", "values": [0, 0.5, 1], "format": ".1f", "orient": "right", "offset": 21, "gradientLength": 132, "gradientThickness": 31, "gradientStrokeWidth": 0, "titleOrient": "right", "titleAnchor": "middle", "titlePadding": 5, "titleLineHeight": 15, "labelOffset": 8, "labelOverlap": false, "encode": {"labels": {"update": {"baseline": {"value": "middle"}}}, "title": {"update": {"angle": {"value": 270}, "baseline": {"value": "top"}, "dy": {"value": -5}}}}}}}},
    {"data": {"name": "pts"}, "mark": {"type": "circle", "size": 18, "color": "#1f77b4", "opacity": 1, "clip": true}, "encoding": {"x": {"field": "x", "type": "quantitative", "scale": {"domain": [0.05, 0.95], "nice": false, "zero": false}, "axis": {"orient": "bottom", "values": [0.1, 0.9], "format": ".1f", "title": null, "labels": false, "labelFlush": false}}, "y": {"field": "y", "type": "quantitative", "scale": {"domain": [0.05, 0.95], "nice": false, "zero": false}, "axis": null}}}
   ],
   "resolve": {"scale": {"x": "independent", "y": "independent"}}}
],
"columns": 6,
"spacing": {"row": 25.7, "column": 21},
"bounds": "flush",
"resolve": {"scale": {"color": "independent"}, "legend": {"color": "independent"}}
}
